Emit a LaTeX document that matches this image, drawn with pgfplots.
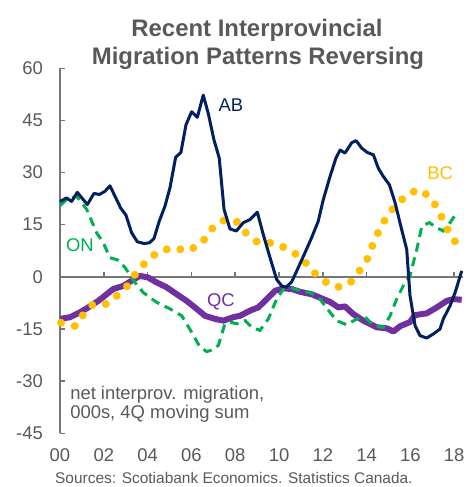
\documentclass[border=0pt]{standalone}
\usepackage{fontspec}
\setmainfont{Liberation Sans}
\usepackage{pgfplots}
\pgfplotsset{compat=1.18}
\usepackage{pgfplotstable}
\definecolor{abc}{RGB}{0,32,96}
\definecolor{bcc}{RGB}{255,192,0}
\definecolor{onc}{RGB}{0,176,80}
\definecolor{qcc}{RGB}{112,48,160}
\definecolor{txt}{RGB}{89,89,89}
\definecolor{axc}{RGB}{118,118,118}

\pgfplotstableread{
x y
0 21.7
0.3 22.7
0.53 21.7
0.79 24.3
1.25 20.8
1.55 24.0
1.8 23.7
2.05 24.6
2.28 26.2
2.51 23.2
2.77 19.8
3.01 17.8
3.27 12.7
3.53 10.1
3.84 9.6
4.08 9.8
4.29 11.0
4.53 16.0
4.79 20.3
5.02 25.6
5.28 34.4
5.52 35.8
5.75 43.7
6.01 47.5
6.27 45.9
6.54 52.3
6.77 47.0
7.03 39.4
7.27 34.2
7.49 19.4
7.76 13.8
8.05 13.2
8.37 15.6
8.68 16.5
9.01 18.6
9.28 12.2
9.59 5.5
9.89 -0.7
10.12 -2.6
10.32 -3.0
10.58 -1.4
10.88 2.7
11.19 7.0
11.49 11.3
11.79 16.0
12.02 22.2
12.33 28.9
12.6 34.2
12.79 36.5
13.01 35.6
13.32 38.6
13.52 39.2
13.78 37.0
14.03 35.8
14.31 35.1
14.53 31.3
14.76 28.9
15.04 26.5
15.3 21.3
15.56 14.6
15.83 7.9
15.98 -5.4
16.21 -14.0
16.44 -16.9
16.74 -17.6
17.05 -16.4
17.35 -15.0
17.5 -12.1
17.81 -8.3
18.04 -4.5
18.34 1.7
}\tabAB

\pgfplotstableread{
x y
0.05 -13.2
0.72 -14.2
1.06 -10.9
1.52 -7.8
2.16 -7.8
2.63 -5.2
3.15 -2.2
3.53 1.8
4.06 5.1
4.52 7.4
5.21 8.4
5.81 7.4
6.47 9.6
6.85 13.4
7.41 16.2
8.03 16.2
8.48 12.7
9.05 9.8
9.79 9.8
10.42 7.9
11.04 5.5
11.49 1.9
12.02 -1.1
12.63 -3.0
13.2 -2.1
13.65 1.5
14.06 5.4
14.31 9.8
14.61 13.9
14.99 18.1
15.48 21.6
16.03 24.3
16.47 25.1
17.0 22.2
17.35 18.2
17.67 13.9
18.05 10.0
}\tabBC

\pgfplotstableread{
x y
0 20.5
0.3 22.2
0.76 23.2
1.22 19.4
1.67 12.7
1.98 9.8
2.28 5.5
2.62 4.9
2.97 2.7
3.32 -0.7
3.42 -1.6
3.8 -4.5
4.41 -7.3
5.02 -9.2
5.56 -11.2
6.01 -15.9
6.39 -20.2
6.7 -21.5
6.95 -21.0
7.23 -19.7
7.53 -13.5
7.76 -13.0
8.07 -13.5
8.45 -12.6
8.75 -14.5
9.13 -15.4
9.51 -12.1
9.89 -6.4
10.2 -3.5
10.5 -3.0
10.96 -4.0
11.42 -4.5
11.87 -6.4
12.33 -10.2
12.63 -12.6
13.09 -13.8
13.55 -12.1
13.93 -11.6
14.31 -14.0
14.76 -14.5
15.07 -11.2
15.37 -6.4
15.75 -1.6
15.98 0.3
16.29 7.9
16.52 14.6
16.86 15.6
17.2 14.1
17.5 13.2
17.81 15.6
18.11 18.4
}\tabON

\pgfplotstableread{
x y
0 -12.1
0.46 -11.6
0.91 -10.2
1.29 -8.8
1.75 -6.9
2.13 -5.0
2.43 -3.5
2.89 -2.6
3.27 -1.1
3.65 0.3
4.03 -0.2
4.41 -1.6
4.87 -3.0
5.33 -5.0
5.78 -6.9
6.24 -9.2
6.62 -11.2
7.08 -12.1
7.46 -12.6
7.91 -11.6
8.22 -11.2
8.68 -9.7
9.05 -8.8
9.44 -6.4
9.82 -4.0
10.2 -3.3
10.58 -3.5
10.96 -4.3
11.49 -5.0
11.95 -6.2
12.33 -7.2
12.71 -8.8
13.01 -8.5
13.39 -10.7
13.85 -12.6
14.46 -14.5
14.92 -14.8
15.22 -15.7
15.53 -14.2
15.98 -13.0
16.21 -11.0
16.74 -10.5
17.2 -8.8
17.66 -6.9
17.96 -6.4
18.34 -6.6
}\tabQC

\begin{document}
\begin{tikzpicture}
\begin{axis}[
  at={(60bp,53.7bp)}, anchor=south west,
  scale only axis, width=403bp, height=365bp,
  xmin=0, xmax=18.4, ymin=-45, ymax=60,
  axis y line*=left, axis x line*=bottom,
  x axis line style={draw=none},
  y axis line style={axc, line width=1.5bp},
  ytick={-45,-30,-15,0,15,30,45,60},
  xtick={0,2,...,18},
  xticklabels={00,02,04,06,08,10,12,14,16,18},
  tick align=inside,
  major tick length=5bp,
  ytick style={axc, line width=1.5bp},
  xtick style={draw=none},
  ticklabel style={font=\fontsize{18.5}{20}\selectfont, text=txt},
  /pgf/number format/assume math mode=true,
  yticklabel style={anchor=east, inner sep=0pt},
  xticklabel style={anchor=north, inner sep=0pt},
  yticklabel shift=17bp,
  xticklabel shift=15bp,
  clip=false,
]
\draw[axc, line width=1.5bp] (axis cs:0,0) -- (axis cs:18.4,0);
\pgfplotsinvokeforeach{2,4,6,8,10,12,14,16,18}{
  \draw[axc, line width=1.5bp] (axis cs:#1,0) -- ([yshift=5bp]axis cs:#1,0);
}
\addplot[qcc, line width=6bp, line join=round, mark=none] table[x=x,y=y] {\tabQC};
\addplot[onc, line width=3bp, dash pattern=on 9bp off 6bp, mark=none] table[x=x,y=y] {\tabON};
\addplot[bcc, line width=8bp, line cap=round, dash pattern=on 0bp off 14bp, mark=none] table[x=x,y=y] {\tabBC};
\addplot[abc, line width=3bp, line join=round, mark=none] table[x=x,y=y] {\tabAB};

\node[text=abc, font=\fontsize{18.5}{20}\selectfont] at (axis cs:7.8,49.5) {AB};
\node[text=bcc, font=\fontsize{18.5}{20}\selectfont] at (axis cs:17.36,29.7) {BC};
\node[text=onc, font=\fontsize{18.5}{20}\selectfont] at (axis cs:0.91,9.2) {ON};
\node[text=qcc, font=\fontsize{18.5}{20}\selectfont] at (axis cs:7.35,-7.3) {QC};
\node[anchor=west, inner sep=0pt, text=txt, font=\fontsize{18.5}{20}\selectfont] at (axis cs:0.46,-33.8) {net interprov. migration,};
\node[anchor=west, inner sep=0pt, text=txt, font=\fontsize{18.5}{20}\selectfont] at (axis cs:0.46,-39.5) {000s, 4Q moving sum};
\end{axis}
\pgfresetboundingbox
\path[use as bounding box] (0,0) rectangle (467bp,487bp);
\node[anchor=base, inner sep=0pt, text=txt, font=\fontsize{24}{28}\selectfont\bfseries] at (257bp,450.3bp) {Recent Interprovincial};
\node[anchor=base, inner sep=0pt, text=txt, font=\fontsize{24}{28}\selectfont\bfseries] at (258bp,422bp) {Migration Patterns Reversing};
\node[anchor=base west, inner sep=0pt, text=txt, font=\fontsize{15.5}{18}\selectfont] at (55bp,4bp) {Sources: Scotiabank Economics. Statistics Canada.};
\end{tikzpicture}
\end{document}
